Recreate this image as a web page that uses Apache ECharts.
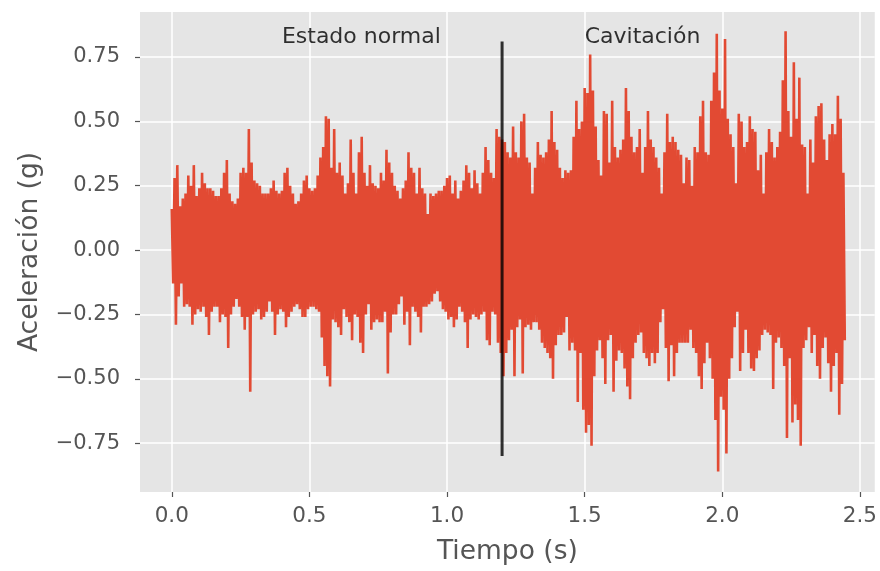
<!DOCTYPE html>
<html><head><meta charset="utf-8">
<script src="https://cdn.jsdelivr.net/npm/echarts@6/dist/echarts.min.js"></script>
<style>html,body{margin:0;padding:0;background:#fff}#c{width:880px;height:571px}</style>
</head><body><div id="c"></div>
<script>
// sampling step of the envelope readings (s)
const sampleStep = 0.01;
// positive peaks read every 0.01 s (g)
const upperPeaks = [
0.16,0.28,0.33,0.17,0.20,0.22,0.29,0.25,0.33,0.21,
0.24,0.30,0.26,0.24,0.24,0.23,0.21,0.21,0.24,0.30,
0.35,0.22,0.19,0.18,0.20,0.30,0.32,0.30,0.47,0.34,
0.27,0.26,0.25,0.22,0.22,0.22,0.24,0.27,0.23,0.22,
0.23,0.30,0.32,0.25,0.22,0.18,0.19,0.22,0.27,0.29,
0.24,0.23,0.24,0.29,0.36,0.40,0.52,0.51,0.32,0.47,
0.30,0.34,0.29,0.22,0.26,0.43,0.30,0.22,0.38,0.44,
0.30,0.25,0.33,0.26,0.25,0.24,0.30,0.27,0.39,0.34,
0.30,0.25,0.23,0.20,0.24,0.27,0.38,0.32,0.30,0.22,
0.32,0.24,0.22,0.14,0.22,0.21,0.22,0.23,0.23,0.25,
0.28,0.29,0.22,0.27,0.20,0.23,0.27,0.33,0.30,0.24,
0.31,0.26,0.22,0.30,0.40,0.35,0.30,0.28,0.47,0.44,
0.43,0.42,0.38,0.36,0.48,0.38,0.36,0.50,0.53,0.36,
0.34,0.22,0.32,0.42,0.37,0.36,0.38,0.43,0.54,0.42,
0.39,0.32,0.28,0.31,0.30,0.31,0.44,0.58,0.47,0.50,
0.63,0.61,0.76,0.62,0.48,0.35,0.29,0.54,0.53,0.34,
0.58,0.40,0.36,0.39,0.43,0.63,0.54,0.44,0.38,0.40,
0.47,0.30,0.40,0.54,0.43,0.40,0.36,0.32,0.22,0.38,
0.53,0.42,0.44,0.42,0.39,0.37,0.26,0.36,0.35,0.25,
0.40,0.38,0.52,0.58,0.38,0.37,0.58,0.69,0.84,0.62,
0.55,0.82,0.51,0.45,0.40,0.26,0.53,0.50,0.40,0.42,
0.52,0.47,0.46,0.31,0.37,0.22,0.38,0.47,0.42,0.36,
0.40,0.46,0.66,0.85,0.54,0.44,0.73,0.51,0.67,0.41,
0.40,0.22,0.43,0.34,0.52,0.56,0.57,0.43,0.35,0.45,
0.49,0.45,0.60,0.51,0.30
];
// negative peaks read every 0.01 s (g)
const lowerPeaks = [
-0.13,-0.29,-0.18,-0.13,-0.22,-0.21,-0.22,-0.29,-0.25,-0.23,
-0.24,-0.22,-0.26,-0.33,-0.24,-0.22,-0.22,-0.28,-0.25,-0.26,
-0.38,-0.25,-0.22,-0.19,-0.22,-0.26,-0.31,-0.26,-0.55,-0.25,
-0.24,-0.23,-0.27,-0.26,-0.24,-0.20,-0.24,-0.33,-0.25,-0.23,
-0.24,-0.30,-0.26,-0.24,-0.22,-0.21,-0.23,-0.26,-0.26,-0.23,
-0.22,-0.22,-0.23,-0.24,-0.34,-0.45,-0.49,-0.53,-0.27,-0.28,
-0.30,-0.33,-0.23,-0.26,-0.28,-0.35,-0.25,-0.26,-0.36,-0.40,
-0.25,-0.21,-0.31,-0.28,-0.27,-0.28,-0.28,-0.24,-0.48,-0.32,
-0.25,-0.25,-0.21,-0.18,-0.29,-0.24,-0.37,-0.22,-0.24,-0.26,
-0.32,-0.22,-0.22,-0.21,-0.20,-0.17,-0.16,-0.20,-0.23,-0.24,
-0.27,-0.26,-0.30,-0.27,-0.22,-0.24,-0.28,-0.38,-0.27,-0.25,
-0.26,-0.27,-0.25,-0.24,-0.35,-0.37,-0.24,-0.25,-0.36,-0.40,
-0.49,-0.40,-0.35,-0.31,-0.49,-0.30,-0.27,-0.48,-0.30,-0.29,
-0.31,-0.28,-0.28,-0.31,-0.36,-0.38,-0.40,-0.42,-0.50,-0.37,
-0.33,-0.33,-0.32,-0.26,-0.39,-0.36,-0.39,-0.59,-0.40,-0.62,
-0.71,-0.68,-0.76,-0.49,-0.39,-0.35,-0.42,-0.52,-0.35,-0.33,
-0.55,-0.43,-0.39,-0.40,-0.46,-0.53,-0.58,-0.42,-0.36,-0.33,
-0.32,-0.40,-0.42,-0.45,-0.40,-0.44,-0.40,-0.28,-0.23,-0.38,
-0.51,-0.37,-0.49,-0.40,-0.36,-0.36,-0.36,-0.36,-0.31,-0.38,
-0.40,-0.49,-0.54,-0.44,-0.36,-0.42,-0.50,-0.66,-0.86,-0.57,
-0.62,-0.79,-0.50,-0.42,-0.30,-0.24,-0.47,-0.40,-0.31,-0.40,
-0.46,-0.47,-0.42,-0.39,-0.33,-0.31,-0.32,-0.33,-0.54,-0.36,
-0.34,-0.38,-0.45,-0.73,-0.42,-0.67,-0.60,-0.66,-0.76,-0.38,
-0.35,-0.30,-0.40,-0.33,-0.45,-0.50,-0.38,-0.34,-0.44,-0.55,
-0.45,-0.40,-0.64,-0.52,-0.35
];
const xTicks = [0, 0.5, 1.0, 1.5, 2.0, 2.5];
const yTicks = [-0.75, -0.5, -0.25, 0, 0.25, 0.5, 0.75];
const xRange = [-0.1155, 2.554];
const yRange = [-0.94, 0.925];
const divisionTime = 1.2;
const divisionExtent = [-0.80, 0.81];
const annotationNames = ['Estado normal', 'Cavitación'];
const annotationTimes = [0.4, 1.5];
const annotationLevels = [0.8, 0.8];
const xLabel = 'Tiempo (s)';
const yLabel = 'Aceleración (g)';

const signal = [];
for (let k = 0; k < upperPeaks.length; k++) {
  const t = k * sampleStep;
  signal.push([t, upperPeaks[k]]);
  signal.push([t + sampleStep / 2, lowerPeaks[k]]);
}
const divisionLine = divisionExtent.map(v => [divisionTime, v]);
const annotationData = annotationNames.map((n, i) => ({name: n, value: [annotationTimes[i], annotationLevels[i]]}));

const FONT = 'DejaVu Sans';
const chart = echarts.init(document.getElementById('c'), null, {renderer: 'canvas'});
chart.setOption({
  animation: false,
  backgroundColor: '#ffffff',
  grid: {left: 140, top: 12, width: 740, height: 481, show: true, backgroundColor: '#E5E5E5', borderWidth: 0},
  xAxis: {
    type: 'value', min: xRange[0], max: xRange[1],
    axisLine: {show: false, onZero: false},
    axisTick: {show: true, customValues: xTicks, length: 5, lineStyle: {color: '#555555', width: 1.2}},
    axisLabel: {customValues: xTicks, formatter: v => v.toFixed(1), color: '#555555', fontSize: 21.5, fontFamily: FONT, margin: 13},
    splitLine: {show: true, lineStyle: {color: '#ffffff', width: 1.5}},
    name: xLabel, nameLocation: 'middle', nameGap: 47,
    nameTextStyle: {color: '#555555', fontSize: 26.5, fontFamily: FONT}
  },
  yAxis: {
    type: 'value', min: yRange[0], max: yRange[1],
    axisLine: {show: false, onZero: false},
    axisTick: {show: true, customValues: yTicks, length: 5, lineStyle: {color: '#555555', width: 1.2}},
    axisLabel: {customValues: yTicks, formatter: v => (v < 0 ? '\u2212' : '') + Math.abs(v).toFixed(2), color: '#555555', fontSize: 21, fontFamily: FONT, margin: 20},
    splitLine: {show: true, lineStyle: {color: '#ffffff', width: 1.5}},
    name: yLabel, nameLocation: 'middle', nameGap: 96, nameRotate: 90,
    nameTextStyle: {color: '#555555', fontSize: 26.5, fontFamily: FONT}
  },
  series: [
    {type: 'line', data: signal, showSymbol: false, symbol: 'none', sampling: null, z: 2,
     lineStyle: {color: '#E24A33', width: 2.6}, itemStyle: {color: '#E24A33'}},
    {type: 'line', data: divisionLine, showSymbol: false, symbol: 'none', z: 3,
     lineStyle: {color: 'rgba(0,0,0,0.8)', width: 3}},
    {type: 'scatter', data: annotationData, symbolSize: 0, z: 4,
     label: {show: true, formatter: p => p.name, position: [0, 0], align: 'left', verticalAlign: 'bottom', offset: [0, 4],
             color: '#000000', fontSize: 22, fontFamily: FONT}}
  ]
});
</script></body></html>
